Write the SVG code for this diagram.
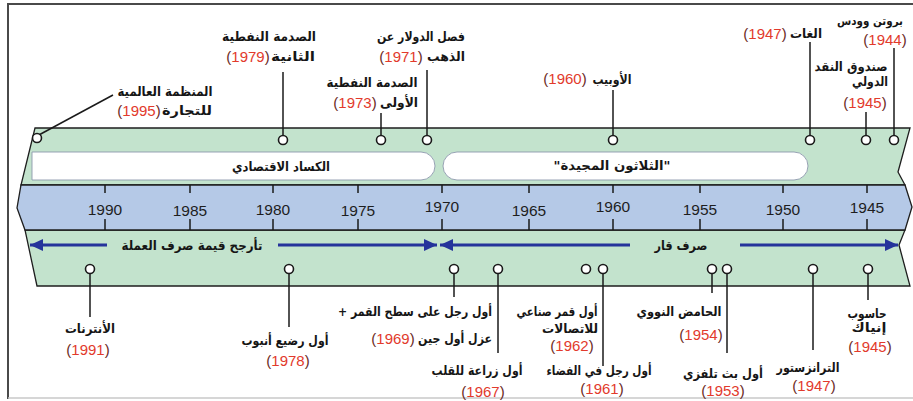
<svg xmlns="http://www.w3.org/2000/svg" width="913" height="401" viewBox="0 0 913 401">
<style>
.ar{font-family:"DejaVu Sans",sans-serif;font-weight:bold;font-size:13px;fill:#161616;direction:rtl;unicode-bidi:embed}
.yr{font-family:"Liberation Sans",Arial,sans-serif;font-size:15px;fill:#e23a2c;text-anchor:middle}
.pr{fill:#6a2a22}
.ax{font-family:"Liberation Sans",Arial,sans-serif;font-size:15.5px;fill:#1e1e1e;text-anchor:middle}
.ln{stroke:#1a1a1a;stroke-width:1.5;fill:none}
.dot{fill:#fff;stroke:#1a1a1a;stroke-width:1.6}
.tk{stroke:#1a1a1a;stroke-width:1.5}
.arr{stroke:#25339b;stroke-width:3;fill:none}
.bar{fill:#fff;stroke:#8d99ad;stroke-width:0.9}
</style>
<defs>
<marker id="ah" markerUnits="userSpaceOnUse" markerWidth="14" markerHeight="12" refX="13" refY="6" orient="auto">
<path d="M0,0 L13,6 L0,12 Z" fill="#25339b"/>
</marker>
</defs>
<rect x="0" y="0" width="913" height="401" fill="#fff"/>
<!-- frame -->
<path d="M8,399 L8,4 L913,4" fill="none" stroke="#4a4a4a" stroke-width="2"/>
<line x1="8" y1="398" x2="913" y2="398" stroke="#c8c8c8" stroke-width="1.5"/>

<g id="band">
<path d="M35,128 L910,128 L898,172 L905,185 L21,185 Z" fill="#c3e3cd" stroke="#1e1e1e" stroke-width="1.3"/>
<path d="M25,230 L905,230 L899,245 L910,286 L37,286 Z" fill="#c3e3cd" stroke="#1e1e1e" stroke-width="1.3"/>
<path d="M21,185 L905,185 L912,207 L905,230 L25,230 L17,208 Z" fill="#b5c9e7" stroke="#1e1e1e" stroke-width="1.3"/>
<path class="bar" d="M32,152 L421,152 A14,14 0 0 1 421,180 L32,180 Z"/>
<rect class="bar" x="443" y="152" width="365" height="28" rx="14" ry="14"/>
<text class="ar" x="281" y="171" text-anchor="middle" textLength="98" lengthAdjust="spacingAndGlyphs">الكساد الاقتصادي</text>
<text class="ar" x="612" y="170" text-anchor="middle" textLength="117" lengthAdjust="spacingAndGlyphs">"الثلاثون المجيدة"</text>
</g>

<g id="axis">
<g class="tk">
<line x1="105" y1="185" x2="105" y2="193"/><line x1="105" y1="219" x2="105" y2="230"/>
<line x1="190" y1="185" x2="190" y2="193"/><line x1="190" y1="219" x2="190" y2="230"/>
<line x1="273" y1="185" x2="273" y2="193"/><line x1="273" y1="219" x2="273" y2="230"/>
<line x1="358" y1="185" x2="358" y2="193"/><line x1="358" y1="219" x2="358" y2="230"/>
<line x1="442" y1="185" x2="442" y2="193"/><line x1="442" y1="219" x2="442" y2="230"/>
<line x1="529" y1="185" x2="529" y2="193"/><line x1="529" y1="219" x2="529" y2="230"/>
<line x1="613" y1="185" x2="613" y2="193"/><line x1="613" y1="219" x2="613" y2="230"/>
<line x1="700" y1="185" x2="700" y2="193"/><line x1="700" y1="219" x2="700" y2="230"/>
<line x1="783" y1="185" x2="783" y2="193"/><line x1="783" y1="219" x2="783" y2="230"/>
<line x1="867" y1="185" x2="867" y2="193"/><line x1="867" y1="219" x2="867" y2="230"/>
</g>
<text class="ax" x="105" y="215">1990</text>
<text class="ax" x="190" y="216">1985</text>
<text class="ax" x="273" y="215">1980</text>
<text class="ax" x="358" y="216">1975</text>
<text class="ax" x="442" y="212">1970</text>
<text class="ax" x="529" y="216">1965</text>
<text class="ax" x="613" y="212">1960</text>
<text class="ax" x="700" y="215">1955</text>
<text class="ax" x="783" y="215">1950</text>
<text class="ax" x="867" y="213">1945</text>
</g>

<g id="exchange-rate">
<line class="arr" x1="107" y1="245" x2="30" y2="245" marker-end="url(#ah)"/>
<line class="arr" x1="278" y1="245" x2="437" y2="245" marker-end="url(#ah)"/>
<line class="arr" x1="630" y1="245" x2="440" y2="245" marker-end="url(#ah)"/>
<line class="arr" x1="740" y1="245" x2="898" y2="245" marker-end="url(#ah)"/>
<text class="ar" x="192" y="250" text-anchor="middle" textLength="141" lengthAdjust="spacingAndGlyphs">تأرجح قيمة صرف العملة</text>
<text class="ar" x="681" y="250" text-anchor="middle" textLength="53" lengthAdjust="spacingAndGlyphs">صرف قار</text>
</g>

<g id="connectors" class="ln">
<line x1="37" y1="136" x2="113" y2="95"/>
<line x1="283" y1="72" x2="283" y2="136"/>
<line x1="381" y1="113" x2="381" y2="136"/>
<line x1="427" y1="70" x2="427" y2="136"/>
<line x1="613" y1="90" x2="613" y2="136"/>
<line x1="810" y1="42" x2="810" y2="136"/>
<line x1="866" y1="112" x2="866" y2="136"/>
<line x1="894" y1="48" x2="894" y2="136"/>
<line x1="90" y1="273" x2="90" y2="317"/>
<line x1="289" y1="273" x2="289" y2="327"/>
<line x1="454" y1="273" x2="454" y2="297"/>
<line x1="498" y1="273" x2="498" y2="353"/>
<line x1="603" y1="273" x2="603" y2="366"/>
<line x1="712" y1="273" x2="712" y2="293"/>
<line x1="727" y1="273" x2="727" y2="353"/>
<line x1="813" y1="273" x2="813" y2="350"/>
<line x1="868" y1="273" x2="868" y2="300"/>
</g>

<!-- top events -->
<g id="wto-1995">
<circle class="dot" cx="37" cy="138" r="4.5"/>
<text class="ar" x="165" y="96" text-anchor="middle" textLength="95" lengthAdjust="spacingAndGlyphs">المنظمة العالمية</text>
<text class="ar" x="187" y="115" text-anchor="middle" textLength="50" lengthAdjust="spacingAndGlyphs">للتجارة</text>
<text class="yr" x="139" y="116"><tspan class="pr">(</tspan>1995<tspan class="pr">)</tspan></text>
</g>
<g id="oil-shock-1979">
<circle class="dot" cx="283" cy="140" r="4.5"/>
<text class="ar" x="269" y="41" text-anchor="middle" textLength="94" lengthAdjust="spacingAndGlyphs">الصدمة النفطية</text>
<text class="ar" x="293" y="61" text-anchor="middle" textLength="44" lengthAdjust="spacingAndGlyphs">الثانية</text>
<text class="yr" x="248" y="62"><tspan class="pr">(</tspan>1979<tspan class="pr">)</tspan></text>
</g>
<g id="oil-shock-1973">
<circle class="dot" cx="381" cy="140" r="4.5"/>
<text class="ar" x="372" y="87" text-anchor="middle" textLength="91" lengthAdjust="spacingAndGlyphs">الصدمة النفطية</text>
<text class="ar" x="399" y="107" text-anchor="middle" textLength="38" lengthAdjust="spacingAndGlyphs">الأولى</text>
<text class="yr" x="355" y="108"><tspan class="pr">(</tspan>1973<tspan class="pr">)</tspan></text>
</g>
<g id="dollar-gold-1971">
<circle class="dot" cx="427" cy="140" r="4.5"/>
<text class="ar" x="421" y="41" text-anchor="middle" textLength="88" lengthAdjust="spacingAndGlyphs">فصل الدولار عن</text>
<text class="ar" x="446" y="61" text-anchor="middle" textLength="38" lengthAdjust="spacingAndGlyphs">الذهب</text>
<text class="yr" x="401" y="62"><tspan class="pr">(</tspan>1971<tspan class="pr">)</tspan></text>
</g>
<g id="opec-1960">
<circle class="dot" cx="613" cy="140" r="4.5"/>
<text class="ar" x="612" y="84" text-anchor="middle" textLength="39" lengthAdjust="spacingAndGlyphs">الأوبيب</text>
<text class="yr" x="565" y="84"><tspan class="pr">(</tspan>1960<tspan class="pr">)</tspan></text>
</g>
<g id="gatt-1947">
<circle class="dot" cx="810" cy="140" r="4.5"/>
<text class="ar" x="806" y="38" text-anchor="middle" textLength="32" lengthAdjust="spacingAndGlyphs">الغات</text>
<text class="yr" x="765" y="39"><tspan class="pr">(</tspan>1947<tspan class="pr">)</tspan></text>
</g>
<g id="imf-1945">
<circle class="dot" cx="866" cy="140" r="4.5"/>
<text class="ar" x="851" y="71" text-anchor="middle" textLength="73" lengthAdjust="spacingAndGlyphs">صندوق النقد</text>
<text class="ar" x="870" y="86" text-anchor="middle" textLength="36" lengthAdjust="spacingAndGlyphs">الدولي</text>
<text class="yr" x="865" y="108"><tspan class="pr">(</tspan>1945<tspan class="pr">)</tspan></text>
</g>
<g id="bretton-woods-1944">
<circle class="dot" cx="894" cy="140" r="4.5"/>
<text class="ar" x="870" y="25" text-anchor="middle" style="font-size:11.5px" textLength="66" lengthAdjust="spacingAndGlyphs">بروتن وودس</text>
<text class="yr" x="885" y="45"><tspan class="pr">(</tspan>1944<tspan class="pr">)</tspan></text>
</g>

<!-- bottom events -->
<g id="internet-1991">
<circle class="dot" cx="90" cy="269" r="4.5"/>
<text class="ar" x="90" y="333" text-anchor="middle" textLength="50" lengthAdjust="spacingAndGlyphs">الأنترنات</text>
<text class="yr" x="88" y="355"><tspan class="pr">(</tspan>1991<tspan class="pr">)</tspan></text>
</g>
<g id="test-tube-1978">
<circle class="dot" cx="289" cy="269" r="4.5"/>
<text class="ar" x="285" y="345" text-anchor="middle" textLength="87" lengthAdjust="spacingAndGlyphs">أول رضيع أنبوب</text>
<text class="yr" x="288" y="366"><tspan class="pr">(</tspan>1978<tspan class="pr">)</tspan></text>
</g>
<g id="moon-gene-1969">
<circle class="dot" cx="454" cy="269" r="4.5"/>
<text class="ar" x="415" y="316" text-anchor="middle" textLength="154" lengthAdjust="spacingAndGlyphs">أول رجل على سطح القمر +</text>
<text class="ar" x="455" y="343" text-anchor="middle" textLength="74" lengthAdjust="spacingAndGlyphs">عزل أول جين</text>
<text class="yr" x="393" y="344"><tspan class="pr">(</tspan>1969<tspan class="pr">)</tspan></text>
</g>
<g id="heart-1967">
<circle class="dot" cx="498" cy="269" r="4.5"/>
<text class="ar" x="477" y="375" text-anchor="middle" textLength="91" lengthAdjust="spacingAndGlyphs">أول زراعة للقلب</text>
<text class="yr" x="483" y="397"><tspan class="pr">(</tspan>1967<tspan class="pr">)</tspan></text>
</g>
<g id="satellite-1962">
<circle class="dot" cx="586" cy="269" r="4.5"/>
<text class="ar" x="557" y="316" text-anchor="middle" textLength="81" lengthAdjust="spacingAndGlyphs">أول قمر صناعي</text>
<text class="ar" x="570" y="333" text-anchor="middle" textLength="56" lengthAdjust="spacingAndGlyphs">للاتصالات</text>
<text class="yr" x="572" y="351"><tspan class="pr">(</tspan>1962<tspan class="pr">)</tspan></text>
</g>
<g id="space-1961">
<circle class="dot" cx="603" cy="269" r="4.5"/>
<text class="ar" x="599" y="375" text-anchor="middle" textLength="105" lengthAdjust="spacingAndGlyphs">أول رجل في الفضاء</text>
<text class="yr" x="602" y="394"><tspan class="pr">(</tspan>1961<tspan class="pr">)</tspan></text>
</g>
<g id="nucleic-acid-1954">
<circle class="dot" cx="712" cy="269" r="4.5"/>
<text class="ar" x="679" y="316" text-anchor="middle" textLength="85" lengthAdjust="spacingAndGlyphs">الحامض النووي</text>
<text class="yr" x="701" y="340"><tspan class="pr">(</tspan>1954<tspan class="pr">)</tspan></text>
</g>
<g id="tv-1953">
<circle class="dot" cx="727" cy="269" r="4.5"/>
<text class="ar" x="723" y="378" text-anchor="middle" textLength="80" lengthAdjust="spacingAndGlyphs">أول بث تلفزي</text>
<text class="yr" x="723" y="396"><tspan class="pr">(</tspan>1953<tspan class="pr">)</tspan></text>
</g>
<g id="transistor-1947">
<circle class="dot" cx="813" cy="269" r="4.5"/>
<text class="ar" x="808" y="372" text-anchor="middle" textLength="63" lengthAdjust="spacingAndGlyphs">الترانزستور</text>
<text class="yr" x="814" y="391"><tspan class="pr">(</tspan>1947<tspan class="pr">)</tspan></text>
</g>
<g id="eniac-1945">
<circle class="dot" cx="868" cy="269" r="4.5"/>
<text class="ar" x="867" y="318" text-anchor="middle" textLength="39" lengthAdjust="spacingAndGlyphs">حاسوب</text>
<text class="ar" x="869" y="332" text-anchor="middle" textLength="35" lengthAdjust="spacingAndGlyphs">إنياك</text>
<text class="yr" x="870" y="352"><tspan class="pr">(</tspan>1945<tspan class="pr">)</tspan></text>
</g>
</svg>
